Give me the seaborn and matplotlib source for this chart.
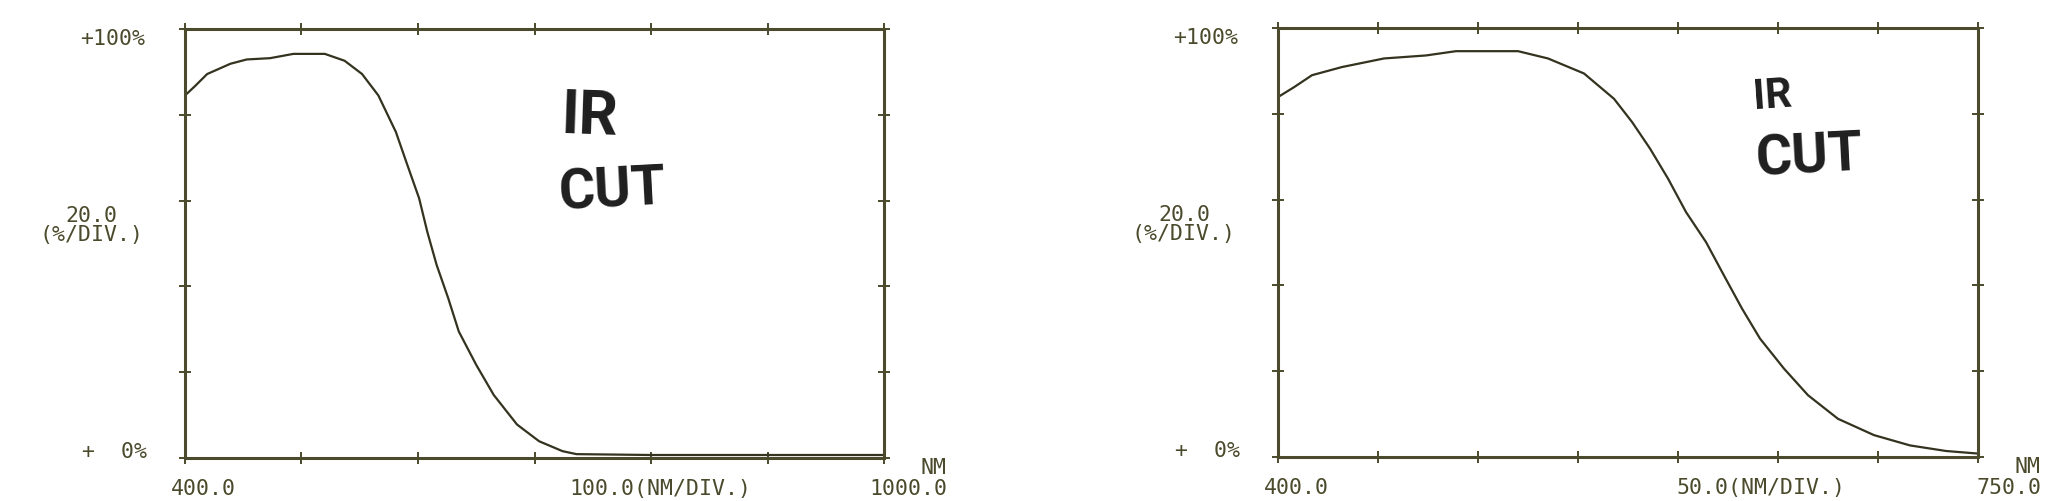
from matplotlib import pyplot as plt
from matplotlib import transforms
import pandas as pd
import seaborn as sns

# transmission curves (nm, %)
left_nm = [400, 409, 419, 439, 453, 473, 493, 520, 537, 552, 566, 581, 591, 601,
           608, 616, 626, 635, 650, 665, 685, 704, 724, 736, 800, 900, 1000]
left_pct = [84.5, 86.8, 89.5, 91.9, 92.9, 93.2, 94.2, 94.2, 92.6, 89.5, 84.5, 76.0,
            68.2, 60.5, 52.7, 45.0, 37.2, 29.5, 21.7, 14.7, 7.8, 3.9, 1.6, 0.9,
            0.7, 0.7, 0.7]

right_nm = [400, 408, 417, 432, 453, 474, 489, 520, 535, 553, 568, 577, 586, 595,
            604, 614, 623, 632, 641, 653, 665, 680, 698, 716, 734, 750]
right_pct = [83.9, 86.2, 89.0, 90.9, 92.9, 93.6, 94.6, 94.6, 92.9, 89.4, 83.5, 78.1,
             71.9, 64.9, 57.1, 50.1, 42.3, 34.6, 27.6, 20.6, 14.4, 8.9, 5.1, 2.7,
             1.4, 0.8]

left_xticks = [400, 500, 600, 700, 800, 900, 1000]
right_xticks = [400, 450, 500, 550, 600, 650, 700, 750]
yticks = [0, 20, 40, 60, 80, 100]

left_labels = ["400.0", "100.0(NM/DIV.)", "1000.0"]
right_labels = ["400.0", "50.0(NM/DIV.)", "750.0"]
y_labels = ["+100%", "20.0\n(%/DIV.)", "+  0%"]
note = ["IR", "CUT"]

INK = '#4b4a2c'
LINE = '#34331f'
MONO = ['DejaVu Sans Mono']

sns.set_style("white")

fig = plt.figure(figsize=(20.48, 5.02), dpi=100)
fig.patch.set_facecolor('white')


def draw_panel(rect, nm, pct, xticks, xlabels, note_pos):
    ax = fig.add_axes(rect)
    df = pd.DataFrame({'nm': nm, 'pct': pct})
    sns.lineplot(ax=ax, data=df, x='nm', y='pct', color=LINE, linewidth=1.6,
                 estimator=None, sort=False)
    ax.set_xlim(xticks[0], xticks[-1])
    ax.set_ylim(0, 100)
    ax.set_xticks(xticks)
    ax.set_yticks(yticks)
    ax.set(xlabel='', ylabel='')
    ax.tick_params(direction='inout', length=9, width=1.4, color=INK,
                   top=True, right=True, bottom=True, left=True,
                   labelleft=False, labelbottom=False)
    for s in ax.spines.values():
        s.set_visible(True)
        s.set_color(INK)
        s.set_linewidth(2.2)

    def off(dx, dy):
        return transforms.offset_copy(ax.transAxes, fig, x=dx, y=dy, units='dots')

    kw = dict(family=MONO, fontsize=15.5, color=INK, va='center')
    ax.text(0, 1, y_labels[0], transform=off(-40, -9), ha='right', **kw)
    ax.text(0, 0.5, y_labels[1], transform=off(-94, 19), ha='center',
            multialignment='center', linespacing=0.95, **kw)
    ax.text(0, 0, y_labels[2], transform=off(-38, 7), ha='right', **kw)
    ax.text(0, 0, xlabels[0], transform=off(-14, -30), ha='left', **kw)
    ax.text(0.81, 0, xlabels[1], transform=off(0, -30), ha='right', **kw)
    ax.text(1, 0, xlabels[2], transform=off(63, -30), ha='right', **kw)
    ax.text(1, 0, "NM", transform=off(63, -9), ha='right', **kw)

    # handwritten marker note
    hw = dict(family=['Roboto', 'DejaVu Sans'], fontweight='bold',
              color='#1f1f1f', ha='center', va='center', transform=ax.transAxes)
    (ix, iy, isz, irot), (cx, cy, csz, crot) = note_pos
    ax.text(ix, iy, note[0], fontsize=isz, rotation=irot, **hw)
    ax.text(cx, cy, note[1], fontsize=csz, rotation=crot, **hw)
    return ax


draw_panel([185 / 2048, 43 / 502, 699 / 2048, 429 / 502],
           left_nm, left_pct, left_xticks, left_labels,
           [(0.579, 0.797, 44, -2), (0.611, 0.622, 40, 3)])
draw_panel([1278 / 2048, 44 / 502, 700 / 2048, 429 / 502],
           right_nm, right_pct, right_xticks, right_labels,
           [(0.706, 0.844, 30, 4), (0.759, 0.699, 40, 3)])

fig.savefig("out.png", dpi=100, facecolor='white')
